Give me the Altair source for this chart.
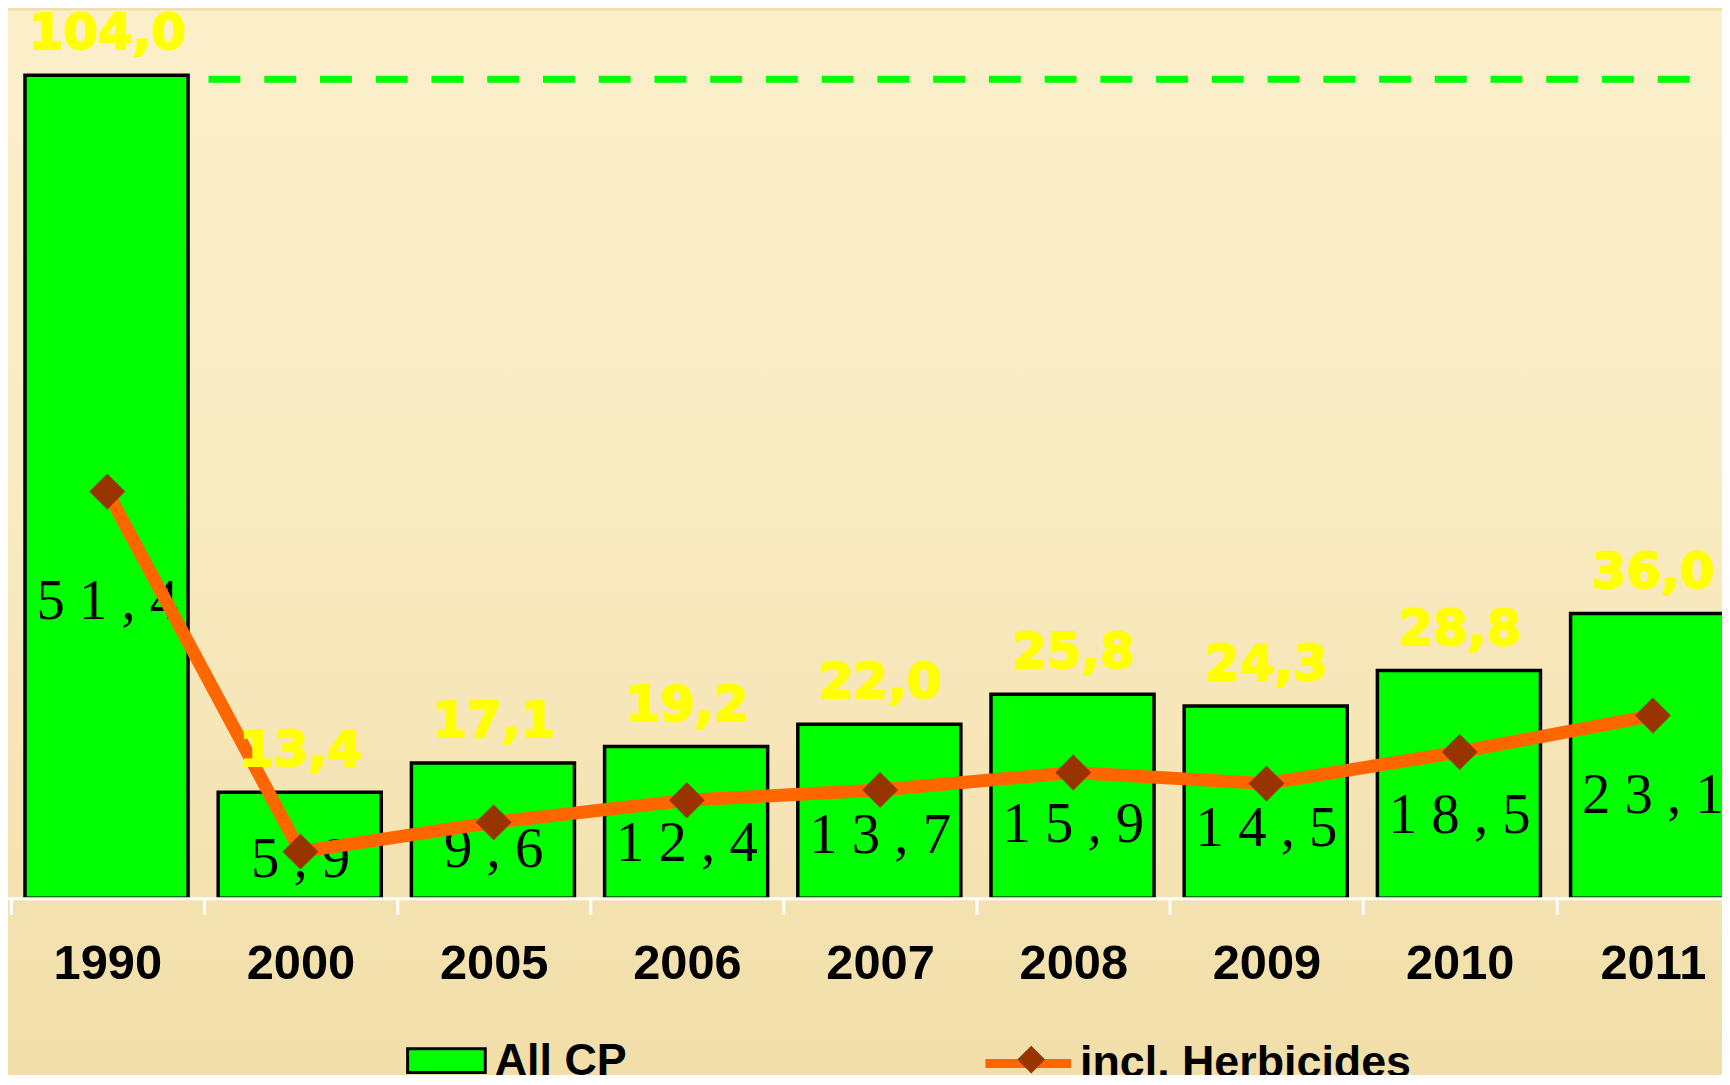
import altair as alt
import pandas as pd

# ---- data ----
years = ["1990", "2000", "2005", "2006", "2007", "2008", "2009", "2010", "2011"]
all_cp = [104.0, 13.4, 17.1, 19.2, 22.0, 25.8, 24.3, 28.8, 36.0]
herbicides = [51.4, 5.9, 9.6, 12.4, 13.7, 15.9, 14.5, 18.5, 23.1]
series_names = ["All CP", "incl. Herbicides"]


def fmt(v):
    return f"{v:.1f}".replace(".", ",")


df = pd.DataFrame({
    "i": list(range(len(years))),
    "year": years,
    "all_cp": all_cp,
    "herb": herbicides,
    "cp_label": [fmt(v) for v in all_cp],
    "herb_label": [" ".join(fmt(v)) for v in herbicides],
    "s_bar": series_names[0],
    "s_line": series_names[1],
    "s_pt": series_names[1],
})
ref_df = pd.DataFrame({"v": [all_cp[0]]})

BAND = 194.1
X0 = -0.014
W = 1722
H = 892
BOTTOM = 175

SANS = "Liberation Sans Narrow, Arial Narrow, Liberation Sans, Arial"
BG = "#F1DEA9"

x_scale = alt.Scale(domain=[X0, X0 + W / BAND], nice=False, zero=False)
y_scale = alt.Scale(domain=[0, 112.2], nice=False, zero=True)

label_expr = "[" + ",".join(f"'{y}'" for y in years) + "][round(datum.value)]"

x_axis = alt.Axis(
    orient="bottom",
    values=list(range(len(years))),
    labelExpr=label_expr,
    labelOffset=BAND / 2,
    labelFlush=False,
    labelOverlap=False,
    labelBound=False,
    labelFont=SANS,
    labelFontSize=49,
    labelFontWeight="bold",
    labelColor="black",
    labelBaseline="middle",
    labelPadding=50,
    labelLimit=500,
    tickColor="white",
    tickWidth=3,
    tickSize=16,
    domainColor="white",
    domainWidth=3,
    grid=False,
    title=None,
    zindex=1,
)


def X(field):
    return alt.X(field, scale=x_scale, axis=x_axis)


def Y(field):
    return alt.Y(field, scale=y_scale, axis=None)


# page background: soft vertical gradient like the slide backdrop
backdrop = alt.Chart(ref_df).mark_rect(
    color=alt.Gradient(
        gradient="linear",
        stops=[
            alt.GradientStop(color="#FBEFCA", offset=0),
            alt.GradientStop(color="#F9EBC2", offset=0.45),
            alt.GradientStop(color="#F1DEA9", offset=1),
        ],
        x1=0, x2=0, y1=0, y2=1,
    )
).encode(
    x=alt.value(0), x2=alt.value(W), y=alt.value(0), y2=alt.value(H + BOTTOM)
)

base = alt.Chart(df)

bars = base.transform_calculate(
    x0="datum.i + 0.074", x1="datum.i + 0.918"
).mark_rect(stroke="black", strokeWidth=3.5, clip=True).encode(
    x=X("x0:Q"),
    x2="x1:Q",
    y=Y("all_cp:Q"),
    y2=alt.datum(0),
    fill=alt.Fill(
        "s_bar:N",
        scale=alt.Scale(range=["#00FF00"]),
        legend=alt.Legend(
            orient="none", legendX=415, legendY=1029.5, title=None, padding=0,
            symbolType="M-1.625,-0.5H1.625V0.5H-1.625Z", symbolSize=2304,
            symbolStrokeColor="black", symbolStrokeWidth=3, symbolFillColor="#00FF00",
            labelFont=SANS, labelFontSize=45, labelFontWeight="bold",
            labelColor="black", labelOffset=23, labelLimit=1000,
        ),
    ),
)

black_text = base.transform_calculate(
    xc="datum.i + 0.5", ty="datum.all_cp * 0.36"
).mark_text(
    font="Liberation Serif, Times New Roman, serif", fontSize=57, color="black",
    baseline="middle", align="center", clip=True,
).encode(
    x=X("xc:Q"),
    y=Y("ty:Q"),
    text="herb_label:N",
)

line = base.transform_calculate(xc="datum.i + 0.5").mark_line(
    strokeWidth=13, clip=True
).encode(
    x=X("xc:Q"),
    y=Y("herb:Q"),
    color=alt.Color(
        "s_line:N",
        scale=alt.Scale(range=["#FF6600"]),
        legend=alt.Legend(
            orient="none", legendX=977.5, legendY=1010.5, title=None, padding=0,
            symbolType="stroke", symbolSize=7396, symbolStrokeWidth=9,
            symbolStrokeColor="#FF6600",
            labelFont=SANS, labelFontSize=45, labelFontWeight="bold",
            labelColor="black", labelOffset=4.5, labelLimit=1000,
        ),
    ),
)

points = base.transform_calculate(xc="datum.i + 0.5").mark_point(
    filled=True, size=1300, opacity=1, color="#993300", clip=True
).encode(
    x=X("xc:Q"),
    y=Y("herb:Q"),
    shape=alt.Shape(
        "s_pt:N",
        scale=alt.Scale(range=["diamond"]),
        legend=alt.Legend(
            orient="none", legendX=1014, legendY=1040, title=None, padding=0,
            symbolSize=784, symbolFillColor="#993300", symbolStrokeWidth=0,
            labelFontSize=1, labelOpacity=0, labelLimit=1000,
        ),
    ),
)

yellow_text = base.transform_calculate(xc="datum.i + 0.5").mark_text(
    font="DejaVu Sans", fontSize=50, fontWeight="bold", color="#FFFF00",
    stroke="#FFFF00", strokeWidth=2,
    baseline="middle", align="center", dy=-41, clip=True,
).encode(
    x=X("xc:Q"),
    y=Y("all_cp:Q"),
    text="cp_label:N",
)

rule = alt.Chart(ref_df).transform_calculate(
    xs="1.024", xe="8.73", vy="datum.v - 0.5"
).mark_rule(
    color="#00FF00", strokeWidth=7, strokeDash=[32, 24], clip=True
).encode(
    y=Y("vy:Q"),
    x=X("xs:Q"),
    x2="xe:Q",
)

chart = alt.layer(backdrop, bars, black_text, line, points, yellow_text, rule).properties(
    width=W,
    height=H,
    autosize=alt.AutoSizeParams(type="none"),
    padding={"left": 0, "top": 0, "right": 0, "bottom": BOTTOM},
    background=BG,
).configure_view(stroke=None)

chart.save("out.html", embed_options={"renderer": "svg", "actions": False})
